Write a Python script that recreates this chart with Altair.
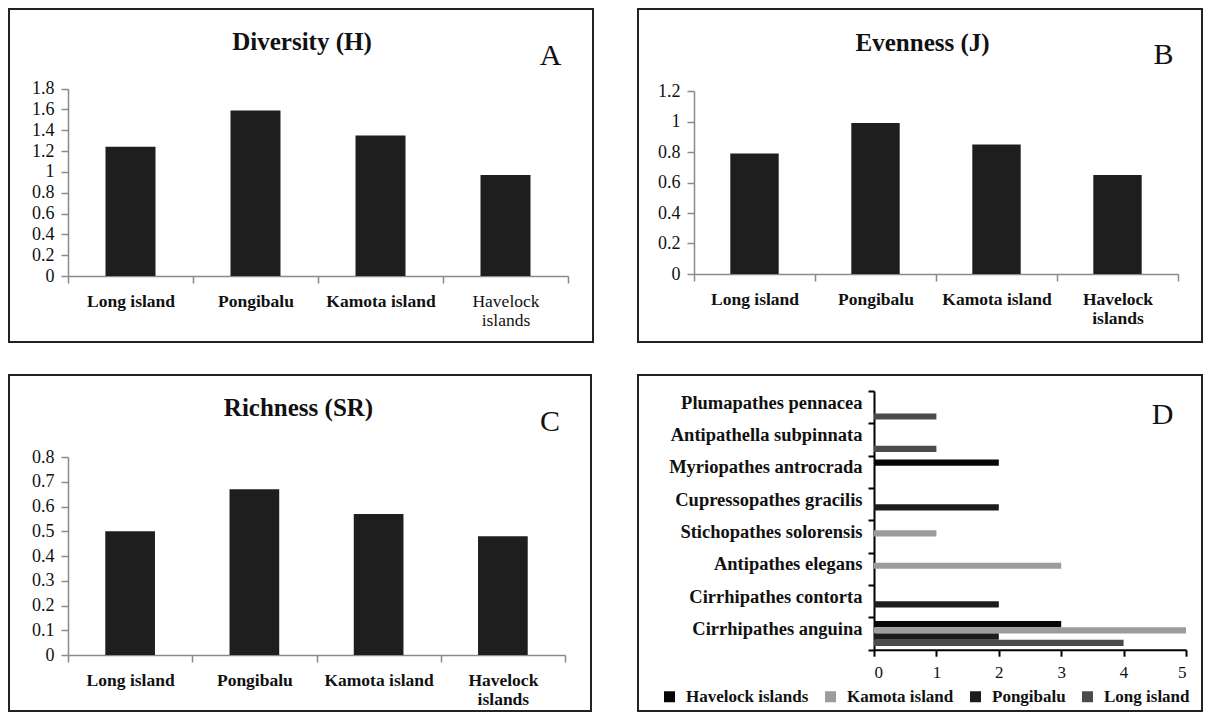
import altair as alt
import pandas as pd

FONT = "Liberation Serif"

# ---------------- data ----------------
sites = ["Long island", "Pongibalu", "Kamota island", "Havelock islands"]
diversity = [1.24, 1.59, 1.35, 0.97]
evenness = [0.79, 0.99, 0.85, 0.65]
richness = [0.50, 0.67, 0.57, 0.48]

div_ticks = [0, 0.2, 0.4, 0.6, 0.8, 1, 1.2, 1.4, 1.6, 1.8]
even_ticks = [0, 0.2, 0.4, 0.6, 0.8, 1, 1.2]
rich_ticks = [0, 0.1, 0.2, 0.3, 0.4, 0.5, 0.6, 0.7, 0.8]

species = [
    "Plumapathes pennacea",
    "Antipathella subpinnata",
    "Myriopathes antrocrada",
    "Cupressopathes gracilis",
    "Stichopathes solorensis",
    "Antipathes elegans",
    "Cirrhipathes contorta",
    "Cirrhipathes anguina",
]
islands = ["Havelock islands", "Kamota island", "Pongibalu", "Long island"]
havelock_counts = [0, 0, 2, 0, 0, 0, 0, 3]
kamota_counts = [0, 0, 0, 0, 1, 3, 0, 5]
pongibalu_counts = [0, 0, 0, 2, 0, 0, 2, 2]
long_counts = [1, 1, 0, 0, 0, 0, 0, 4]
count_ticks = [0, 1, 2, 3, 4, 5]
island_colors = ["#070707", "#9c9c9c", "#1c1c1c", "#4b4b4b"]


def text_layer(txt, x, y, size, weight):
    return alt.Chart(alt.Data(values=[{"t": txt}])).mark_text(
        font=FONT, fontSize=size, fontWeight=weight, align="center",
        baseline="alphabetic", color="#111111"
    ).encode(x=alt.value(x), y=alt.value(y), text="t:N")


def bar_panel(values, ticks, title, letter, w, h, xr, yr, title_xy, letter_xy, hav_bold):
    df = pd.DataFrame({"site": sites, "value": values})
    if hav_bold:
        weight = "bold"
    else:
        weight = {"condition": {"test": "datum.value == 'Havelock islands'", "value": "normal"},
                  "value": "bold"}
    bars = alt.Chart(df).mark_bar(color="#1e1e1e", width=alt.RelativeBandSize(0.4)).encode(
        x=alt.X("site:N", sort=sites,
                scale=alt.Scale(range=xr, paddingInner=0, paddingOuter=0),
                axis=alt.Axis(title=None, labelAngle=0, tickBand="extent",
                              domainColor="#8a8a8a", tickColor="#8a8a8a", domainWidth=1.5,
                              tickWidth=1.5, tickSize=7, labelFont=FONT, labelFontSize=17.5,
                              labelFontWeight=weight, labelColor="#111111", labelPadding=9,
                              labelLineHeight=19, labelLimit=0, grid=False,
                              labelExpr="datum.label == 'Havelock islands' ? ['Havelock', 'islands'] : datum.label",
                              offset=-(h - yr[0]))),
        y=alt.Y("value:Q",
                scale=alt.Scale(domain=[ticks[0], ticks[-1]], range=yr, nice=False, zero=True),
                axis=alt.Axis(title=None, values=ticks, format="~g", grid=False,
                              domainColor="#8a8a8a", tickColor="#8a8a8a", domainWidth=1.5,
                              tickWidth=1.5, tickSize=7, labelFont=FONT, labelFontSize=18,
                              labelColor="#111111", labelPadding=7, offset=-xr[0])),
    )
    return alt.layer(
        bars,
        text_layer(title, title_xy[0], title_xy[1], 25, "bold"),
        text_layer(letter, letter_xy[0], letter_xy[1], 30, "normal"),
    ).properties(width=w, height=h)


pA = bar_panel(diversity, div_ticks, "Diversity (H)", "A", 584, 333,
               [59, 559], [267, 79.5], (293, 41), (541.7, 56), False)
pB = bar_panel(evenness, even_ticks, "Evenness (J)", "B", 564, 333,
               [56, 540], [265, 82], (284.6, 42), (525.5, 55), True)
pC = bar_panel(richness, rich_ticks, "Richness (SR)", "C", 582, 336,
               [59, 556], [280, 82], (289.5, 41), (541, 56), True)

# ---------------- panel D ----------------
rows = []
for isl, counts in zip(islands, [havelock_counts, kamota_counts, pongibalu_counts, long_counts]):
    for sp, c in zip(species, counts):
        if c > 0:
            rows.append({"species": sp, "island": isl, "count": c})
dfD = pd.DataFrame(rows)

hD = 336
y0D = 274.7
barsD = alt.Chart(dfD).mark_bar().encode(
    y=alt.Y("species:N", sort=species,
            scale=alt.Scale(range=[16, y0D], paddingInner=0, paddingOuter=0),
            axis=alt.Axis(title=None, tickBand="extent", domainColor="#000000", domainWidth=2,
                          tickColor="#000000", tickWidth=2, tickSize=6, labelFont=FONT,
                          labelFontSize=18.5, labelFontWeight="bold", labelColor="#111111",
                          labelPadding=6, labelLimit=0, grid=False, labelOffset=-5,
                          offset=-236)),
    yOffset=alt.YOffset("island:N", sort=islands,
                        scale=alt.Scale(paddingInner=0, paddingOuter=0.6)),
    x=alt.X("count:Q", scale=alt.Scale(domain=[0, 5], range=[236, 548], nice=False),
            axis=alt.Axis(title=None, values=count_ticks, grid=False, domainColor="#000000",
                          domainWidth=2, tickColor="#000000", tickWidth=2, tickSize=6.5,
                          labelFont=FONT, labelFontSize=17, labelColor="#111111",
                          labelPadding=8, offset=-(hD - y0D))),
    color=alt.Color("island:N", sort=islands,
                    scale=alt.Scale(domain=islands, range=island_colors),
                    legend=alt.Legend(title=None, orient="none", legendX=23, legendY=313,
                                      direction="horizontal", symbolType="square",
                                      symbolSize=121, symbolStrokeWidth=0, labelFont=FONT,
                                      labelFontSize=17, labelFontWeight="bold",
                                      labelColor="#111111", labelOffset=8, columnPadding=13,
                                      padding=0, labelLimit=0)),
)
pD = alt.layer(barsD, text_layer("D", 524.5, 49.3, 30, "normal")).properties(width=564, height=hD)

chart = alt.vconcat(
    alt.hconcat(pA, pB, spacing=45, bounds="flush"),
    alt.hconcat(pC, pD, spacing=47, bounds="flush").resolve_scale(color="independent").resolve_legend(color="independent"),
    spacing=22,
).resolve_scale(color="independent").resolve_legend(color="independent").properties(
    padding=0, background="white"
).configure_view(stroke="#222222", strokeWidth=2)

chart.save("out.html", embed_options={"renderer": "svg", "actions": False})
